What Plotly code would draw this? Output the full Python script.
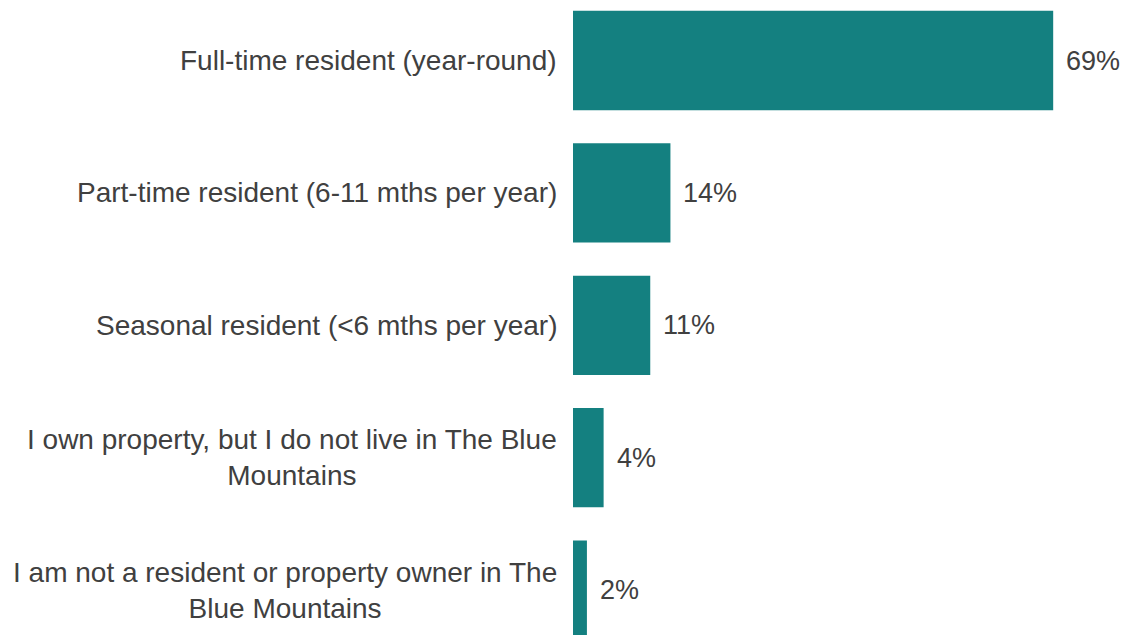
import plotly.graph_objects as go

categories = [
    "Full-time resident (year-round)",
    "Part-time resident (6-11 mths per year)",
    "Seasonal resident (<6 mths per year)",
    "I own property, but I do not live in The Blue<br>Mountains",
    "I am not a resident or property owner in The<br>Blue Mountains",
]
values = [69, 14, 11.1, 4.4, 2]
value_labels = ["69%", "14%", "11%", "4%", "2%"]

BAR_COLOR = "#148080"
TEXT_COLOR = "#404040"
FONT = "Liberation Sans, Arial, sans-serif"

idx = list(range(len(categories)))

fig = go.Figure(
    go.Bar(
        x=values,
        y=idx,
        orientation="h",
        width=0.75,
        marker=dict(color=BAR_COLOR, line=dict(width=0)),
        hoverinfo="skip",
    )
)

annotations = []
for i, (cat, v, lab) in enumerate(zip(categories, values, value_labels)):
    annotations.append(dict(
        xref="paper", yref="y", x=-0.0255, y=i, text=cat,
        xanchor="right", yanchor="middle", align="center",
        showarrow=False, font=dict(size=28, color=TEXT_COLOR, family=FONT),
    ))
    annotations.append(dict(
        xref="x", yref="y", x=v, y=i, text=lab,
        xanchor="left", yanchor="middle", xshift=11,
        showarrow=False, font=dict(size=27, color=TEXT_COLOR, family=FONT),
    ))

fig.update_layout(
    width=1128,
    height=635,
    margin=dict(l=565, r=0, t=0, b=0),
    plot_bgcolor="white",
    paper_bgcolor="white",
    showlegend=False,
    font=dict(family=FONT, color=TEXT_COLOR, size=24),
    annotations=annotations,
)
fig.update_xaxes(range=[0, 80.9], visible=False, showgrid=False, zeroline=False)
fig.update_yaxes(range=[4.3994, -0.3965], visible=False, showgrid=False, zeroline=False)

fig.write_html("out.html")
